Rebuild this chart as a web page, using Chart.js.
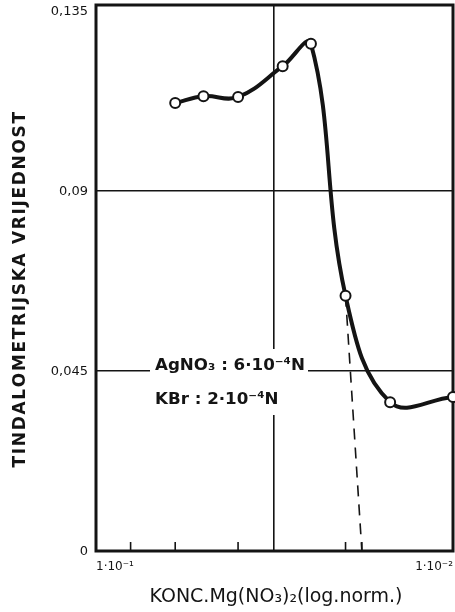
<!DOCTYPE html>
<html><head><meta charset="utf-8">
<script src="https://cdn.jsdelivr.net/npm/chart.js@4/dist/chart.umd.min.js"></script>
<style>html,body{margin:0;padding:0;background:#fff;}#wrap{width:455px;height:612px;position:relative;}</style>
</head><body><div id="wrap"><canvas id="c"></canvas></div>
<script>
// Data
const concentrations = [0.06, 0.05, 0.04, 0.03, 0.025, 0.02, 0.015, 0.01];
const tyndallValues  = [0.112, 0.1137, 0.1135, 0.1212, 0.1268, 0.0638, 0.0372, 0.0385];
const extrapolationX = [0.02, 0.018];
const extrapolationY = [0.0638, 0];
const yTickValues = [0, 0.045, 0.09, 0.135];
const yTickLabels = ['0', '0,045', '0,09', '0,135'];
const yGridValues = [0.045, 0.09];
const xTickValues = [0.1, 0.08, 0.06, 0.04, 0.0317, 0.02, 0.018, 0.01];
const xLabelledTicks = [0.1, 0.01];
const xLabelTexts = ['1·10⁻¹', '1·10⁻²'];
const xGridValues = [0.0317];
const yTitle = 'TINDALOMETRIJSKA VRIJEDNOST';
const xTitle = 'KONC.Mg(NO₃)₂(log.norm.)';
const noteLines = ['AgNO₃ : 6·10⁻⁴N', 'KBr : 2·10⁻⁴N'];

const INK = '#141414';
const FONT = '"DejaVu Sans"';

const mainData = concentrations.map((x, i) => ({x, y: tyndallValues[i]}));
const dashData = extrapolationX.map((x, i) => ({x, y: extrapolationY[i]}));

function fitFont(ctx, text, weight, width) {
  ctx.font = weight + ' 20px ' + FONT;
  const w = ctx.measureText(text).width;
  const size = 20 * width / w;
  ctx.font = weight + ' ' + size.toFixed(2) + 'px ' + FONT;
  return size;
}

const decor = {
  id: 'decor',
  beforeDatasetsDraw(chart) {
    const {ctx, chartArea: a, scales: {x, y}} = chart;
    ctx.save();
    // frame
    ctx.strokeStyle = INK;
    ctx.lineWidth = 3;
    ctx.strokeRect(a.left, a.top, a.right - a.left, a.bottom - a.top);
    // inner tick marks on x axis
    ctx.lineWidth = 1.6;
    xTickValues.forEach(v => {
      if (xGridValues.includes(v) || xLabelledTicks.includes(v)) return;
      const px = x.getPixelForValue(v);
      ctx.beginPath();
      ctx.moveTo(px, a.bottom);
      ctx.lineTo(px, a.bottom - 9);
      ctx.stroke();
    });
    // annotation box
    ctx.fillStyle = '#fff';
    ctx.fillRect(150, 349, 158, 66);
    ctx.fillStyle = INK;
    ctx.textBaseline = 'middle';
    ctx.textAlign = 'left';
    fitFont(ctx, noteLines[0], '600', 150);
    ctx.fillText(noteLines[0], 155, 366);
    ctx.fillText(noteLines[1], 155, 400);
    ctx.restore();
  },
  afterDraw(chart) {
    const {ctx, chartArea: a, scales: {x, y}} = chart;
    ctx.save();
    ctx.fillStyle = INK;
    // y tick labels
    ctx.font = '13px ' + FONT;
    ctx.textAlign = 'right';
    ctx.textBaseline = 'middle';
    yTickValues.forEach((v, i) => {
      ctx.fillText(yTickLabels[i], 88, y.getPixelForValue(v) + 1);
    });
    // x tick labels
    ctx.font = '12px ' + FONT;
    ctx.textBaseline = 'middle';
    xLabelledTicks.forEach((v, i) => {
      const px = x.getPixelForValue(v);
      ctx.textAlign = i === 0 ? 'left' : 'right';
      ctx.fillText(xLabelTexts[i], px, 567);
    });
    ctx.restore();

    // y title
    ctx.save();
    ctx.fillStyle = INK;
    ctx.font = 'bold 17px ' + FONT;
    const target = 355;
    const w0 = ctx.measureText(yTitle).width;
    const sp = (target - w0) / (yTitle.length - 1);
    ctx.translate(21, 290);
    ctx.rotate(-Math.PI / 2);
    ctx.textBaseline = 'middle';
    ctx.textAlign = 'left';
    let cx = -target / 2;
    for (const ch of yTitle) {
      ctx.fillText(ch, cx, 0);
      cx += ctx.measureText(ch).width + sp;
    }
    ctx.restore();

    // x title
    ctx.save();
    ctx.fillStyle = INK;
    fitFont(ctx, xTitle, '500', 253);
    ctx.textAlign = 'center';
    ctx.textBaseline = 'middle';
    ctx.fillText(xTitle, 276, 597);
    ctx.restore();
  }
};

new Chart(document.getElementById('c'), {
  type: 'scatter',
  data: {
    datasets: [
      {
        data: mainData, showLine: true, borderColor: INK, borderWidth: 4,
        tension: 0.4, pointRadius: 5, pointBorderWidth: 2, clip: false,
        pointBackgroundColor: '#fff', pointBorderColor: INK, order: 1
      },
      {
        data: dashData, showLine: true, borderColor: INK, borderWidth: 1.6,
        borderDash: [11, 8], pointRadius: 0, order: 2, clip: false
      }
    ]
  },
  options: {
    responsive: true, maintainAspectRatio: false, animation: false,
    layout: {autoPadding: false, padding: {left: 0, top: 5, right: 2, bottom: 0}},
    plugins: {legend: {display: false}, tooltip: {enabled: false}},
    scales: {
      x: {
        type: 'logarithmic', reverse: true, min: 0.01, max: 0.1,
        afterBuildTicks: s => { s.ticks = xTickValues.map(v => ({value: v})); },
        afterFit: s => { s.height = 61; },
        border: {display: false},
        grid: {
          drawTicks: false,
          color: c => xGridValues.includes(c.tick && c.tick.value) ? INK : 'rgba(0,0,0,0)',
          lineWidth: 1.6
        },
        ticks: {display: false}
      },
      y: {
        type: 'linear', min: 0, max: 0.1365,
        afterBuildTicks: s => { s.ticks = yTickValues.map(v => ({value: v})); },
        afterFit: s => { s.width = 96; },
        border: {display: false},
        grid: {
          drawTicks: false,
          color: c => yGridValues.includes(c.tick && c.tick.value) ? INK : 'rgba(0,0,0,0)',
          lineWidth: 1.6
        },
        ticks: {display: false}
      }
    }
  },
  plugins: [decor]
});
</script></body></html>
